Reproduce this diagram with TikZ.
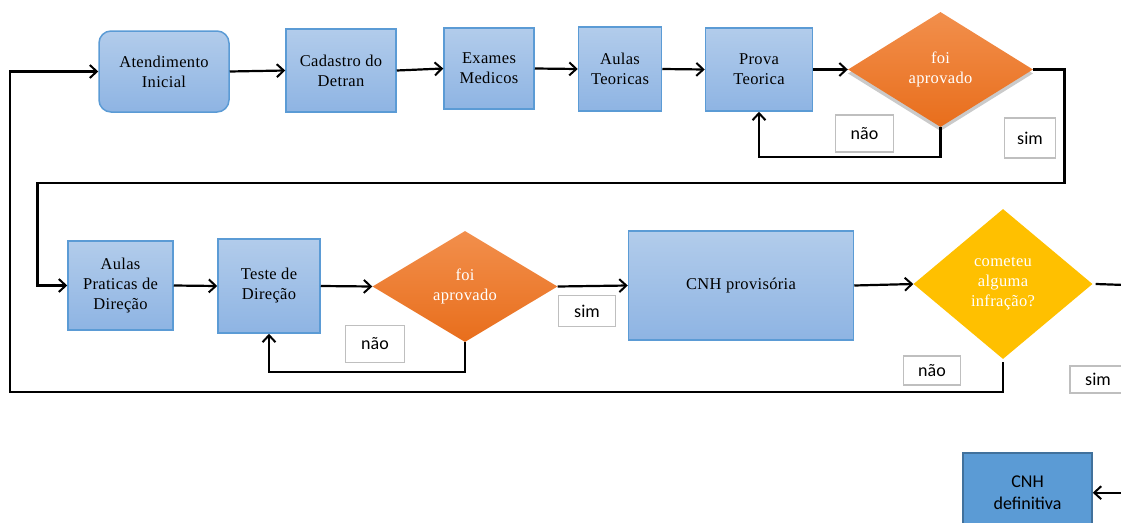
\documentclass[tikz,border=0pt]{standalone}
\usepackage{fontspec}
\setmainfont{Liberation Serif}
\newfontfamily\boxfont[LetterSpace=2]{Liberation Serif}
\newfontfamily\calfont{Carlito}
\usetikzlibrary{shapes.geometric,arrows.meta,shadows}
\definecolor{bluetop}{RGB}{178,204,235}
\definecolor{bluebot}{RGB}{142,180,227}
\definecolor{blueedge}{RGB}{91,155,213}
\definecolor{oratop}{RGB}{242,143,76}
\definecolor{orabot}{RGB}{232,110,28}
\definecolor{yel}{RGB}{255,192,0}
\definecolor{darkblue}{RGB}{91,155,213}
\definecolor{darkedge}{RGB}{65,113,156}
\definecolor{lblgray}{RGB}{191,191,191}
\begin{document}
\begin{tikzpicture}[x=1pt,y=-1pt,
  proc/.style={draw=blueedge, line width=1.5pt, top color=bluetop, bottom color=bluebot,
    align=center, inner sep=0pt, text=black, font=\boxfont\fontsize{16.5}{20}\selectfont},
  decide/.style={diamond, inner sep=0pt, align=center, text=white,
    font=\boxfont\fontsize{16.5}{20}\selectfont},
  lbl/.style={draw=lblgray, line width=1.6pt, fill=white, inner sep=0pt,
    font=\calfont\fontsize{18}{20}\selectfont, text=black},
  arr/.style={line width=2.2pt, -{Straight Barb[length=7pt,width=13pt,line width=2pt]}},
  ln/.style={line width=2.2pt}
]
\clip (0,0) rectangle (1121,522);
% top row
\node[proc, rounded corners=12pt, minimum width=130pt, minimum height=81pt] (at) at (164,71.5) {Atendimento\\Inicial};
\node[proc, minimum width=110pt, minimum height=83pt] (cad) at (341,70.5) {Cadastro do\\Detran};
\node[proc, minimum width=90pt, minimum height=81pt] (ex) at (489,68.5) {Exames\\Medicos};
\node[proc, minimum width=83pt, minimum height=84pt] (aul) at (620,69) {Aulas\\Teoricas};
\node[proc, minimum width=107pt, minimum height=83pt] (pr) at (759,69.5) {Prova\\Teorica};
\node[decide, top color=oratop, bottom color=orabot, minimum width=185pt, minimum height=115pt,
  drop shadow={shadow xshift=0pt, shadow yshift=-4pt, fill=gray!70, opacity=0.6}] (d1) at (940.5,69.5) {foi\\aprovado};
% second row
\node[proc, minimum width=105pt, minimum height=89pt] (ap) at (120.5,285.5) {Aulas\\Praticas de\\Direção};
\node[proc, minimum width=102pt, minimum height=94pt] (td) at (269,286) {Teste de\\Direção};
\node[decide, top color=oratop, bottom color=orabot, minimum width=185pt, minimum height=111pt] (d2) at (465,286.5) {foi\\aprovado};
\node[proc, minimum width=225pt, minimum height=109pt] (cnhp) at (741,285.5) {CNH provisória};
\node[decide, fill=yel, minimum width=179pt, minimum height=150pt] (d3) at (1003,284) {cometeu\\alguma\\infração?};
% final
\node[draw=darkedge, line width=1.5pt, fill=darkblue, minimum width=129pt, minimum height=80pt, inner sep=0pt,
  align=center, font=\calfont\fontsize{18}{22}\selectfont] (cnhd) at (1027.5,493) {CNH\\definitiva};
% labels
\node[lbl, minimum width=58pt, minimum height=37pt] (n1) at (864.5,133.5) {não};
\node[lbl, minimum width=51pt, minimum height=40pt] (s1) at (1030,138) {sim};
\node[lbl, minimum width=59pt, minimum height=37pt] (n2) at (375,344) {não};
\node[lbl, minimum width=57pt, minimum height=31pt] (s2) at (587,311) {sim};
\node[lbl, minimum width=57pt, minimum height=29pt] (n3) at (932,370.5) {não};
\node[lbl, minimum width=56pt, minimum height=27pt] (s3) at (1098,379.5) {sim};
% coordinates
\coordinate (r1) at (1064.5,183);
\coordinate (l1) at (37.5,183);
\coordinate (bl) at (10,392);
\coordinate (re) at (1125,285);
\coordinate (re2) at (1125,492.7);
% connectors
\draw[arr] (at.east) -- (cad.west);
\draw[arr] (cad.east) -- (ex.west);
\draw[arr] (ex.east) -- (aul.west);
\draw[arr] (aul.east) -- (pr.west);
\draw[arr] (pr.east) -- (d1.west);
\draw[arr] (d1.south) -- ++(0,30) -| (pr.south);
\draw[arr] (d1.east) -| (r1) -- (l1) |- (ap.west);
\draw[arr] (ap.east) -- (td.west);
\draw[arr] (td.east) -- (d2.west);
\draw[arr] (d2.south) -- ++(0,30) -| (td.south);
\draw[arr] (d2.east) -- (cnhp.west);
\draw[arr] (cnhp.east) -- (d3.west);
\draw[arr] ([yshift=-3pt]d3.south) |- (bl) |- (at.west);
\draw[ln] ([xshift=3pt]d3.east) -- (re);
\draw[arr] (re2) -- (cnhd.east |- re2);
\end{tikzpicture}
\end{document}
